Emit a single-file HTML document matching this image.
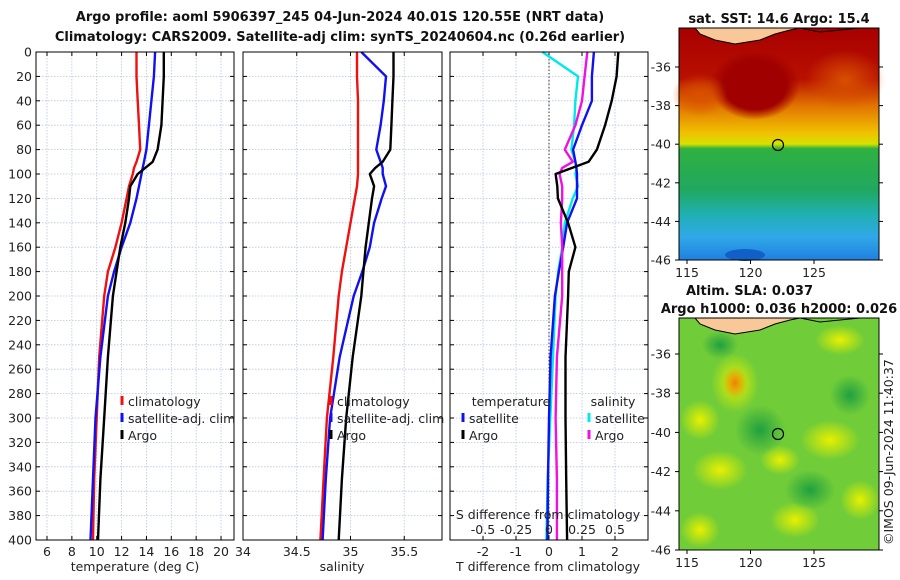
<!DOCTYPE html>
<html><head><meta charset="utf-8">
<style>
html,body{margin:0;padding:0;background:#fff;}
svg{display:block;font-family:"DejaVu Sans","Liberation Sans",sans-serif;}
.tk{font-size:12.5px;fill:#222;}
.ttl{font-size:13px;font-weight:bold;fill:#111;}
</style></head>
<body>
<svg id="fig" width="900" height="580" viewBox="0 0 900 580" xmlns="http://www.w3.org/2000/svg">
<text class="ttl" x="340" y="21" text-anchor="middle">Argo profile: aoml 5906397_245 04-Jun-2024 40.01S 120.55E (NRT data)</text>
<text class="ttl" x="340" y="41" text-anchor="middle">Climatology: CARS2009. Satellite-adj clim: synTS_20240604.nc (0.26d earlier)</text>
<g id="g1"></g>
<g id="g2"></g>
<g id="g3"></g>
<g id="m1">
 <defs>
  <linearGradient id="sstg" x1="0" y1="0" x2="0" y2="1">
   <stop offset="0" stop-color="#a80000"/><stop offset="0.22" stop-color="#b81000"/>
   <stop offset="0.33" stop-color="#e07000"/><stop offset="0.45" stop-color="#f0c000"/>
   <stop offset="0.5" stop-color="#d8e000"/><stop offset="0.52" stop-color="#30b040"/>
   <stop offset="0.7" stop-color="#20a860"/><stop offset="0.8" stop-color="#20b0b0"/>
   <stop offset="0.9" stop-color="#30a8e8"/><stop offset="1" stop-color="#2080e0"/>
  </linearGradient>
  <radialGradient id="slab" cx="0.5" cy="0.5" r="0.5"><stop offset="0" stop-color="#f08000"/><stop offset="1" stop-color="#f08000" stop-opacity="0"/></radialGradient>
  <radialGradient id="sly" cx="0.5" cy="0.5" r="0.5"><stop offset="0" stop-color="#e8f000"/><stop offset="1" stop-color="#e8f000" stop-opacity="0"/></radialGradient>
  <radialGradient id="slg" cx="0.5" cy="0.5" r="0.5"><stop offset="0" stop-color="#20a040"/><stop offset="1" stop-color="#20a040" stop-opacity="0"/></radialGradient>
  <radialGradient id="sor" cx="0.5" cy="0.5" r="0.5"><stop offset="0" stop-color="#d85000"/><stop offset="1" stop-color="#d85000" stop-opacity="0"/></radialGradient>
  <radialGradient id="sdr" cx="0.5" cy="0.5" r="0.5"><stop offset="0" stop-color="#a00000"/><stop offset="0.7" stop-color="#a00000"/><stop offset="1" stop-color="#a00000" stop-opacity="0"/></radialGradient>
 </defs>
 <rect x="679" y="28" width="200" height="232" fill="url(#sstg)"/>
 <ellipse cx="755" cy="85" rx="45" ry="35" fill="url(#sdr)"/>
 <ellipse cx="845" cy="80" rx="40" ry="30" fill="url(#sor)"/>
 <ellipse cx="700" cy="95" rx="28" ry="22" fill="url(#sor)"/>
 <ellipse cx="745" cy="255" rx="20" ry="6" fill="#1060c8"/>
 <path d="M695,28 L700,34 L715,40 L735,44 L760,40 L775,34 L790,30 L800,28 Z" fill="#f8c898" stroke="#000" stroke-width="1"/>
 <path d="M800,28 L820,32 L840,30 L860,28" fill="none" stroke="#000" stroke-width="1"/>
 <circle cx="778" cy="145" r="5.5" fill="none" stroke="#000" stroke-width="1.2"/>
 <rect x="679" y="28" width="200" height="232" fill="none" stroke="#000" stroke-width="1"/>
 <text class="ttl" x="779" y="23" text-anchor="middle">sat. SST: 14.6 Argo: 15.4</text>
</g>
<g id="m2">
 <rect x="679" y="318" width="200" height="232" fill="#70cc38"/>
 <ellipse cx="735" cy="383" rx="24" ry="30" fill="url(#sly)"/>
 <ellipse cx="735" cy="383" rx="12" ry="16" fill="url(#slab)"/>
 <ellipse cx="720" cy="470" rx="28" ry="20" fill="url(#sly)"/>
 <ellipse cx="830" cy="440" rx="30" ry="20" fill="url(#sly)"/>
 <ellipse cx="795" cy="520" rx="25" ry="18" fill="url(#sly)"/>
 <ellipse cx="700" cy="420" rx="20" ry="20" fill="url(#sly)"/>
 <ellipse cx="780" cy="460" rx="20" ry="15" fill="url(#sly)"/>
 <ellipse cx="860" cy="500" rx="20" ry="20" fill="url(#sly)"/>
 <ellipse cx="700" cy="530" rx="20" ry="18" fill="url(#sly)"/>
 <ellipse cx="840" cy="340" rx="25" ry="15" fill="url(#sly)"/>
 <ellipse cx="760" cy="430" rx="25" ry="25" fill="url(#slg)"/>
 <ellipse cx="850" cy="395" rx="20" ry="20" fill="url(#slg)"/>
 <ellipse cx="720" cy="345" rx="18" ry="14" fill="url(#slg)"/>
 <ellipse cx="810" cy="490" rx="25" ry="20" fill="url(#slg)"/>
 <path d="M695,318 L700,324 L715,330 L735,334 L760,330 L775,324 L790,320 L800,318 Z" fill="#f8c898" stroke="#000" stroke-width="1"/>
 <path d="M800,318 L820,322 L840,320 L860,318" fill="none" stroke="#000" stroke-width="1"/>
 <circle cx="778" cy="434" r="5.5" fill="none" stroke="#000" stroke-width="1.2"/>
 <rect x="679" y="318" width="200" height="232" fill="none" stroke="#000" stroke-width="1"/>
 <text class="ttl" x="686" y="295">Altim. SLA: 0.037</text>
 <text class="ttl" x="779" y="313" text-anchor="middle">Argo h1000: 0.036 h2000: 0.026</text>
</g>
<text class="tk" transform="translate(893,545) rotate(-90)">©IMOS 09-Jun-2024 11:40:37</text>
</svg>
<script>
// ---- data ----
const depths = [0,20,40,60,80,90,95,100,110,120,140,160,180,200,250,300,350,400];
const tempClim = [13.2,13.2,13.3,13.4,13.5,13.2,13.0,12.9,12.6,12.4,12.0,11.5,10.9,10.6,10.2,10.0,9.8,9.7];
const tempSat  = [14.7,14.6,14.4,14.2,14.0,13.8,13.7,13.6,13.4,13.2,12.7,12.0,11.4,10.9,10.3,9.9,9.7,9.5];
const tempArgo = [15.4,15.4,15.3,15.2,14.9,14.5,13.9,13.3,12.7,12.6,12.3,11.9,11.6,11.3,10.9,10.6,10.3,10.1];
const salClim = [35.06,35.06,35.07,35.07,35.07,35.07,35.07,35.07,35.06,35.04,35.00,34.96,34.92,34.89,34.84,34.78,34.75,34.72];
const salSat  = [35.10,35.33,35.31,35.28,35.24,35.28,35.30,35.30,35.33,35.29,35.22,35.18,35.11,35.03,34.90,34.81,34.77,34.74];
const salArgo = [35.40,35.40,35.39,35.38,35.37,35.30,35.23,35.18,35.22,35.20,35.17,35.14,35.12,35.10,35.02,34.96,34.92,34.89];
const dTSat  = [1.36,1.3,1.3,1.0,0.73,0.8,0.83,0.85,0.85,0.85,0.55,0.43,0.3,0.18,0.05,0.0,-0.03,-0.05];
const dTArgo = [2.1,2.05,1.9,1.7,1.45,1.2,0.7,0.2,0.25,0.27,0.58,0.8,0.6,0.58,0.5,0.5,0.52,0.55];
const dSSat  = [-0.05,0.22,0.2,0.19,0.17,0.2,0.21,0.2,0.22,0.18,0.12,0.1,0.07,0.05,0.03,0.01,-0.01,-0.02];
const dSArgo = [0.29,0.27,0.25,0.2,0.12,0.18,0.1,0.08,0.1,0.1,0.09,0.1,0.1,0.1,0.06,0.05,0.06,0.06];
const depthTicks = [0,20,40,60,80,100,120,140,160,180,200,220,240,260,280,300,320,340,360,380,400];
const tempTicks = [6,8,10,12,14,16,18,20];
const salTicks = [34,34.5,35,35.5];
const salTickLabels = ["34","34.5","35","35.5"];
const dTTicks = [-2,-1,0,1,2];
const dSTicks = [-0.5,-0.25,0,0.25,0.5];
const dSTickLabels = ["-0.5","-0.25","0","0.25","0.5"];

const NS="http://www.w3.org/2000/svg";
const Y0=52, Y1=540;
function yS(d){return Y0+(d/400)*(Y1-Y0);}
function mk(tag,attrs,parent){const e=document.createElementNS(NS,tag);for(const k in attrs)e.setAttribute(k,attrs[k]);parent.appendChild(e);return e;}
function panel(g,x0,x1,xScale,ticks,labels,showDepth){
  ticks.forEach(t=>{mk('line',{x1:xScale(t),x2:xScale(t),y1:Y0,y2:Y1,stroke:'#b8c4e8','stroke-width':0.8,'stroke-dasharray':'1.5,1.5'},g);});
  depthTicks.forEach(d=>{mk('line',{x1:x0,x2:x1,y1:yS(d),y2:yS(d),stroke:'#b8c4e8','stroke-width':0.8,'stroke-dasharray':'1.5,1.5'},g);
    mk('line',{x1:x0,x2:x0+4,y1:yS(d),y2:yS(d),stroke:'#000'},g);mk('line',{x1:x1-4,x2:x1,y1:yS(d),y2:yS(d),stroke:'#000'},g);
    if(showDepth){const t=mk('text',{x:x0-4,y:yS(d)+4.5,'text-anchor':'end',class:'tk'},g);t.textContent=d;
      
      }
  });
  ticks.forEach((t,i)=>{mk('line',{x1:xScale(t),x2:xScale(t),y1:Y1,y2:Y1-4,stroke:'#000'},g);mk('line',{x1:xScale(t),x2:xScale(t),y1:Y0,y2:Y0+4,stroke:'#000'},g);
    const tx=mk('text',{x:xScale(t),y:Y1+16,'text-anchor':'middle',class:'tk'},g);tx.textContent=labels[i];
    
    });
}
function line(g,xs,xScale,color,name,w){
  const pts=xs.map((v,i)=>xScale(v).toFixed(1)+','+yS(depths[i]).toFixed(1)).join(' ');
  const p=mk('polyline',{points:pts,fill:'none',stroke:color,'stroke-width':w||2.4,'stroke-linejoin':'round'},g);
  
  
}
function frame(g,x0,x1){mk('rect',{x:x0,y:Y0,width:x1-x0,height:Y1-Y0,fill:'none',stroke:'#000','stroke-width':1},g);}
function legend(g,x,y,items){items.forEach((it,i)=>{mk('line',{x1:x,x2:x,y1:y+i*17-10,y2:y+i*17-1,stroke:it[1],'stroke-width':3},g);
  const t=mk('text',{x:x+6,y:y+i*17,class:'tk'},g);t.textContent=it[0];
  
  });}
function label(g,x,y,txt,name){const t=mk('text',{x:x,y:y,'text-anchor':'middle',class:'tk'},g);t.textContent=txt;
  
  }

// panel 1
const g1=document.getElementById('g1');
const xT=t=>47+(t-6)*12.43;
panel(g1,36,234,xT,tempTicks,tempTicks.map(String),true);
line(g1,tempClim,xT,'#f01010','temp-climatology-line');
line(g1,tempSat,xT,'#1010f0','temp-satellite-line');
line(g1,tempArgo,xT,'#000','temp-argo-line');
frame(g1,36,234);
legend(g1,122,406,[['climatology','#f01010'],['satellite-adj. clim','#1010f0'],['Argo','#000']]);
label(g1,135,571,'temperature (deg C)','temperature-axis-title');

// panel 2
const g2=document.getElementById('g2');
const xS=s=>243+(s-34)*107.5;
panel(g2,243,442,xS,salTicks,salTickLabels,false);
line(g2,salClim,xS,'#f01010','sal-climatology-line');
line(g2,salSat,xS,'#1010f0','sal-satellite-line');
line(g2,salArgo,xS,'#000','sal-argo-line');
frame(g2,243,442);
legend(g2,331,406,[['climatology','#f01010'],['satellite-adj. clim','#1010f0'],['Argo','#000']]);
label(g2,342,571,'salinity','salinity-axis-title');

// panel 3
const g3=document.getElementById('g3');
const xD=d=>549+d*33;
const xDS=s=>549+s*132;
panel(g3,450,648,xD,dTTicks,dTTicks.map(String),false);
mk('line',{x1:xD(0),x2:xD(0),y1:Y0,y2:Y1,stroke:'#333','stroke-width':1,'stroke-dasharray':'1.5,2'},g3);
line(g3,dSSat,xDS,'#00e8e8','sal-diff-satellite-line');
line(g3,dTSat,xD,'#1010f0','temp-diff-satellite-line');
line(g3,dSArgo,xDS,'#f010e0','sal-diff-argo-line');
line(g3,dTArgo,xD,'#000','temp-diff-argo-line');
frame(g3,450,648);
label(g3,511,406,'temperature','diff-legend-temp-title');
legend(g3,463,423,[['satellite','#1010f0'],['Argo','#000']]);
label(g3,613,406,'salinity','diff-legend-sal-title');
legend(g3,589,423,[['satellite','#00e8e8'],['Argo','#f010e0']]);
label(g3,548,519,'S difference from climatology','sdiff-axis-title');
dSTicks.forEach((s,i)=>{const t=mk('text',{x:xDS(s),y:534,'text-anchor':'middle',class:'tk'},g3);t.textContent=dSTickLabels[i];
  
  });
label(g3,548,571,'T difference from climatology','tdiff-axis-title');

// map axes
function mapAxes(g,yTop,yBot,lat0,pxPerLat){
  [115,120,125].forEach(lo=>{const x=687+(lo-115)*12.7;mk('line',{x1:x,x2:x,y1:yBot,y2:yBot+4,stroke:'#000'},g);
    const t=mk('text',{x:x,y:yBot+17,'text-anchor':'middle',class:'tk'},g);t.textContent=lo;
    
    });
  [-36,-38,-40,-42,-44,-46].forEach(la=>{const y=lat0+(-36-la)*pxPerLat;mk('line',{x1:679,x2:675,y1:y,y2:y,stroke:'#000'},g);mk('line',{x1:879,x2:883,y1:y,y2:y,stroke:'#000'},g);
    const t=mk('text',{x:671,y:y+4.5,'text-anchor':'end',class:'tk'},g);t.textContent=la;
    
    });
}
mapAxes(document.getElementById('m1'),28,260,67,19.3);
mapAxes(document.getElementById('m2'),318,550,354,19.6);
</script>
</body></html>
